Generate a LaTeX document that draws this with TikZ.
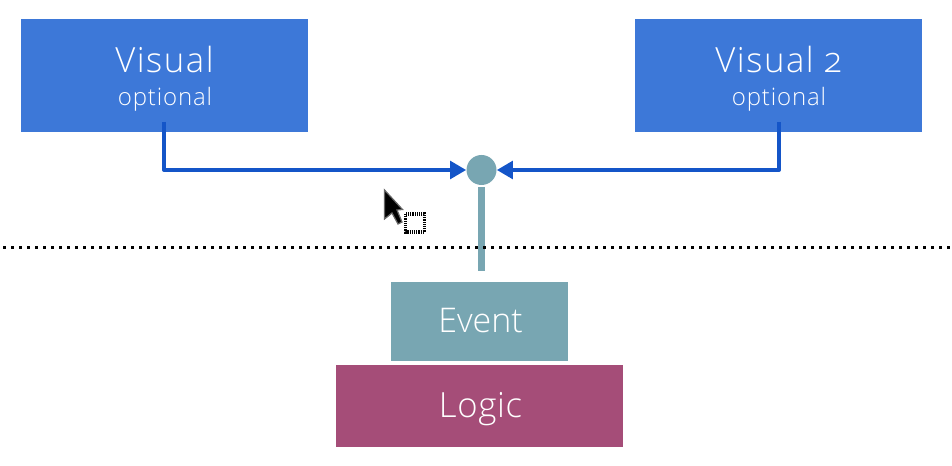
\documentclass[tikz,border=0pt]{standalone}
\usepackage{fontspec}
\setmainfont[Numbers=OldStyle]{Open Sans Light}
\usetikzlibrary{arrows.meta,calc}
\definecolor{boxblue}{HTML}{3D78D8}
\definecolor{linkblue}{HTML}{1455C8}
\definecolor{teal}{HTML}{78A6B2}
\definecolor{plum}{HTML}{A54D78}
\tikzset{
  box/.style={draw=none,minimum width=215.25pt,minimum height=84.75pt,fill=boxblue,text=white,inner sep=0pt,align=center},
  big/.style={font=\fontsize{25.5}{28}\selectfont},
  bigsp/.style={font=\fontsize{26}{28}\selectfont\addfontfeature{LetterSpace=2}},
  bigwide/.style={font=\fontsize{26}{28}\selectfont\addfontfeature{LetterSpace=4.5}},
  small/.style={font=\fontsize{18}{20}\selectfont\addfontfeature{LetterSpace=3.5}},
  link/.style={draw=linkblue,line width=3pt,line join=round,-{Triangle[length=12pt,width=13pt]}},
  stem/.style={draw=teal,line width=5.25pt},
}
\begin{document}
\begin{tikzpicture}[x=0.75pt,y=-0.75pt]
\useasboundingbox (0,0) rectangle (952,466);
\node[box] (v1) at (164.5,75.5) {};
\node[box] (v2) at (778.5,75.5) {};
\node[bigwide,text=white,anchor=base] (v1t) at (164.5,73) {Visual};
\node[small,text=white,anchor=base] (v1o) at (165,106) {optional};
\node[bigwide,text=white,anchor=base] (v2t) at (778.5,73) {Visual 2};
\node[small,text=white,anchor=base] (v2o) at (779,106) {optional};
\node[draw=none,fill=teal,circle,minimum size=22.5pt,inner sep=0pt] (hub) at (481.5,170) {};
\node[fill=teal,text=white,minimum width=132.75pt,minimum height=59.25pt,inner sep=0pt] (ev) at (479.5,321.5) {};
\node[fill=plum,text=white,minimum width=215.25pt,minimum height=61.5pt,inner sep=0pt] (lg) at (479.5,406) {};
\node[big,text=white,anchor=base] (evt) at (480.5,332) {Event};
\node[bigsp,text=white,anchor=base] (lgt) at (480.5,417) {Logic};
\coordinate (s1) at (164,122);
\coordinate (s2) at (779,122);
\coordinate (m1) at (164,170);
\coordinate (m2) at (779,170);
\draw[link] (s1) -- (m1) -- (hub.west);
\draw[link] (s2) -- (m2) -- (hub.east);
\coordinate (st) at (481.5,187);
\coordinate (sb) at (481.5,271);
\draw[stem] (st) -- (sb);
\coordinate (dl) at (3,247.5);
\coordinate (dr) at (952,247.5);
\draw[line width=2.25pt,black,dash pattern=on 2.25pt off 3.75pt] (dl) -- (dr);
% cursor
\fill[black,draw=black!60,line width=0.9pt] (384.5,190) -- (384.5,219) -- (392,213) -- (398,224) -- (402,222) -- (397,210) -- (402.5,209.5) -- cycle;
\draw[black,line width=2.6pt,line join=miter,dash pattern=on 0.9pt off 0.75pt] (405.5,214) rectangle (424.5,232);
\end{tikzpicture}
\end{document}
